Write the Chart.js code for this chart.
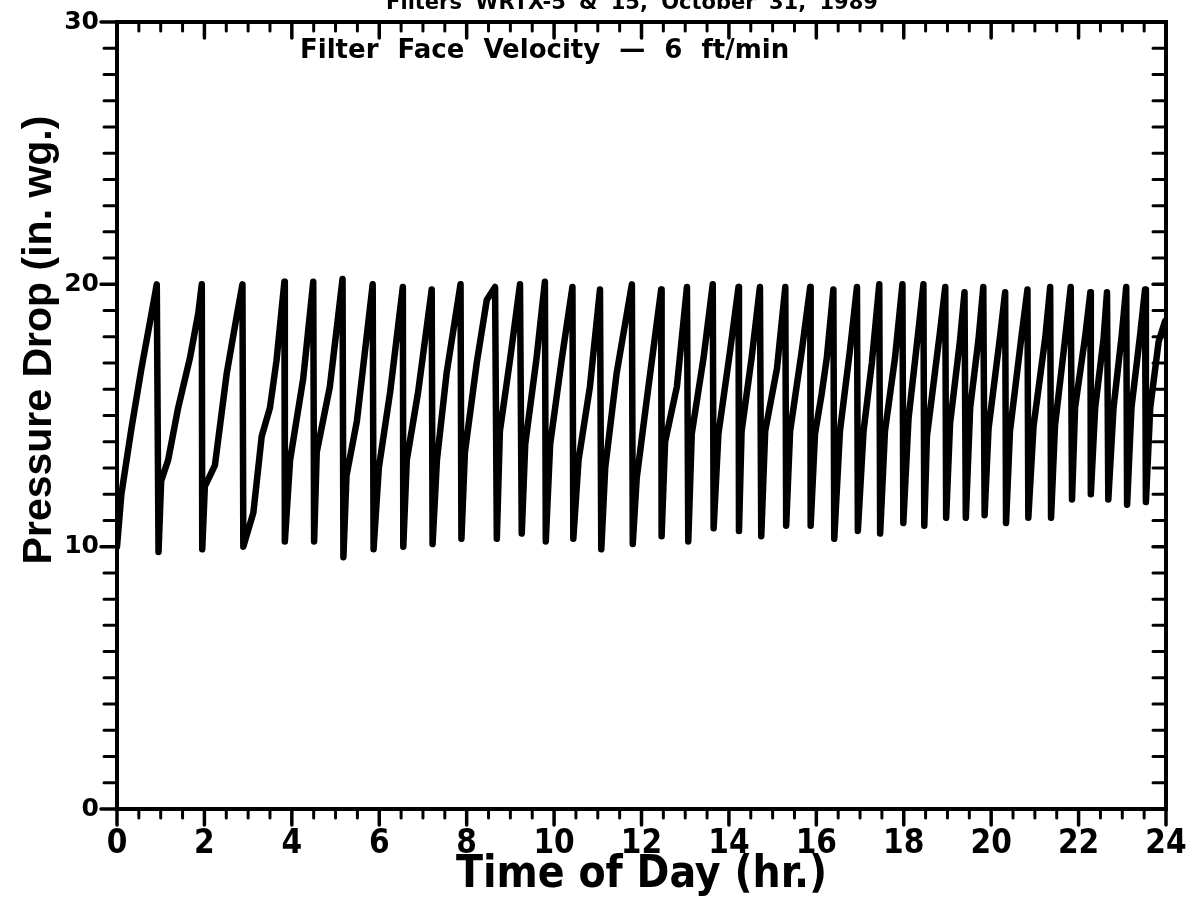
<!DOCTYPE html>
<html>
<head>
<meta charset="utf-8">
<script src="https://cdn.jsdelivr.net/npm/chart.js@4.4.1/dist/chart.umd.min.js"></script>
<style>
  html, body { margin: 0; padding: 0; background: #fff; }
  #wrap { width: 1191px; height: 904px; }
</style>
</head>
<body>
<div id="wrap"><canvas id="grafico" width="1191" height="904"></canvas></div>
<script>
// valores (hora do dia x queda de pressao)
const tempo = [
    0, 0.10, 0.33, 0.56, 0.78, 0.91, 0.95,
    1.01, 1.17, 1.40, 1.67, 1.86, 1.94, 1.95,
    2.01, 2.24, 2.51, 2.74, 2.87, 2.89,
    3.12, 3.31, 3.50, 3.65, 3.83, 3.84,
    3.96, 4.26, 4.49, 4.51,
    4.57, 4.87, 5.16, 5.18,
    5.25, 5.49, 5.85, 5.87,
    5.99, 6.25, 6.54, 6.55,
    6.63, 6.89, 7.20, 7.22,
    7.32, 7.54, 7.86, 7.88,
    7.96, 8.23, 8.46, 8.65, 8.69,
    8.76, 8.99, 9.22, 9.26,
    9.34, 9.60, 9.79, 9.81,
    9.91, 10.18, 10.42, 10.44,
    10.56, 10.82, 11.05, 11.08,
    11.17, 11.43, 11.78, 11.80,
    11.89, 12.12, 12.45, 12.46,
    12.54, 12.81, 13.04, 13.07,
    13.15, 13.42, 13.63, 13.65,
    13.76, 14.03, 14.22, 14.23,
    14.29, 14.52, 14.71, 14.74,
    14.83, 15.10, 15.29, 15.31,
    15.40, 15.67, 15.86, 15.87,
    15.97, 16.12, 16.24, 16.39, 16.41,
    16.54, 16.77, 16.93, 16.95,
    17.08, 17.27, 17.44, 17.46,
    17.57, 17.80, 17.97, 17.99,
    18.11, 18.34, 18.45, 18.47,
    18.53, 18.83, 18.95, 18.97,
    19.06, 19.29, 19.39, 19.42,
    19.52, 19.71, 19.82, 19.85,
    19.94, 20.21, 20.32, 20.34,
    20.43, 20.70, 20.83, 20.85,
    20.97, 21.24, 21.35, 21.37,
    21.46, 21.69, 21.82, 21.85,
    21.92, 22.15, 22.27, 22.28,
    22.38, 22.57, 22.65, 22.68,
    22.80, 22.99, 23.09, 23.11,
    23.21, 23.41, 23.52, 23.54,
    23.64, 23.83, 23.98
];

const pressao = [
    10.0, 12.0, 14.5, 16.8, 18.8, 20.0, 9.8,
    12.5, 13.3, 15.3, 17.2, 18.9, 20.0, 9.9,
    12.3, 13.1, 16.6, 18.8, 20.0, 10.0,
    11.3, 14.2, 15.3, 17.1, 20.1, 10.2,
    13.3, 16.4, 20.1, 10.2,
    13.6, 16.1, 20.2, 9.6,
    12.7, 14.8, 20.0, 9.9,
    13.0, 15.9, 19.9, 10.0,
    13.3, 15.9, 19.8, 10.1,
    13.3, 16.6, 20.0, 10.3,
    13.6, 17.0, 19.4, 19.9, 10.3,
    14.4, 17.1, 20.0, 10.5,
    13.9, 17.2, 20.1, 10.2,
    13.9, 17.2, 19.9, 10.3,
    13.3, 16.1, 19.8, 9.9,
    13.0, 16.6, 20.0, 10.1,
    12.6, 15.6, 19.8, 10.4,
    14.0, 16.1, 19.9, 10.2,
    14.3, 17.2, 20.0, 10.7,
    14.3, 17.5, 19.9, 10.6,
    14.4, 17.2, 19.9, 10.4,
    14.4, 16.8, 19.9, 10.8,
    14.4, 17.5, 19.9, 10.8,
    14.3, 15.8, 17.2, 19.8, 10.3,
    14.4, 17.5, 19.9, 10.6,
    14.4, 17.0, 20.0, 10.5,
    14.4, 17.2, 20.0, 10.9,
    14.9, 18.3, 20.0, 10.8,
    14.2, 18.2, 19.9, 11.1,
    14.7, 17.9, 19.7, 11.1,
    15.3, 17.9, 19.9, 11.2,
    14.5, 18.1, 19.7, 10.9,
    14.4, 18.1, 19.8, 11.1,
    14.6, 18.0, 19.9, 11.1,
    14.6, 17.9, 19.9, 11.8,
    15.3, 18.0, 19.7, 12.0,
    15.3, 17.9, 19.7, 11.8,
    15.3, 18.1, 19.9, 11.6,
    15.3, 18.1, 19.8, 11.7,
    15.3, 17.8, 18.6
];

const ticksX = [0, 2, 4, 6, 8, 10, 12, 14, 16, 18, 20, 22, 24];
const ticksY = [0, 10, 20, 30];

const titulo = 'Filters WRTX-5 & 15, October 31, 1989';
const anotacao = 'Filter Face Velocity \u2014 6 ft/min';
const tituloY = 'Pressure Drop (in. wg.)';

// moldura e marcas de escala desenhadas a mao (como no original)
const molduraPlugin = {
    id: 'moldura',
    afterDraw(chart) {
        const ctx = chart.ctx;
        const a = chart.chartArea;
        const sx = chart.scales.x;
        const sy = chart.scales.y;
        ctx.save();
        ctx.strokeStyle = '#000';
        ctx.lineCap = 'round';

        // marcas do eixo x (baixo para fora, topo para dentro)
        for (let i = 0; i <= 48; i++) {
            const v = i * 0.5;
            const px = sx.getPixelForValue(v);
            const maior = (v % 2 === 0);
            const len = maior ? 16 : 9;
            ctx.lineWidth = maior ? 3.5 : 3;
            ctx.beginPath();
            ctx.moveTo(px, a.bottom);
            ctx.lineTo(px, a.bottom + len);
            ctx.moveTo(px, a.top);
            ctx.lineTo(px, a.top + len);
            ctx.stroke();
        }

        // marcas do eixo y (esquerda para fora, direita para dentro)
        for (let i = 0; i <= 30; i++) {
            const py = sy.getPixelForValue(i);
            const maior = (i % 10 === 0);
            ctx.lineWidth = maior ? 3.5 : 3;
            ctx.beginPath();
            ctx.moveTo(a.left - (maior ? 16 : 13), py);
            ctx.lineTo(a.left, py);
            ctx.moveTo(a.right, py);
            ctx.lineTo(a.right - 13, py);
            ctx.stroke();
        }

        // moldura
        ctx.lineWidth = 4;
        ctx.lineCap = 'butt';
        ctx.strokeRect(a.left, a.top, a.right - a.left, a.bottom - a.top);

        ctx.fillStyle = '#000';

        // texto dentro do grafico
        ctx.font = 'bold 26px "DejaVu Sans", sans-serif';
        ctx.textAlign = 'left';
        ctx.textBaseline = 'alphabetic';
        ctx.wordSpacing = '10px';
        ctx.fillText(anotacao, 300, 58);

        // titulo cortado no topo
        ctx.font = 'bold 21px "DejaVu Sans", sans-serif';
        ctx.textAlign = 'center';
        ctx.wordSpacing = '6px';
        ctx.fillText(titulo, 632, 9);
        ctx.wordSpacing = '0px';

        // titulo do eixo y
        ctx.translate(40, 340);
        ctx.rotate(-Math.PI / 2);
        ctx.font = 'bold 41px "Liberation Sans", Arial, sans-serif';
        ctx.textAlign = 'center';
        ctx.textBaseline = 'middle';
        ctx.fillText(tituloY, 0, 0);
        ctx.restore();
    }
};

const pontos = tempo.map((t, i) => ({ x: t, y: pressao[i] }));

const config = {
    type: 'scatter',
    data: {
        datasets: [{
            label: 'Pressure Drop',
            data: pontos,
            showLine: true,
            borderColor: '#000',
            backgroundColor: '#000',
            borderWidth: 6.5,
            borderJoinStyle: 'round',
            borderCapStyle: 'round',
            pointRadius: 0,
            tension: 0
        }]
    },
    options: {
        responsive: false,
        animation: false,
        layout: {
            padding: { left: 0, top: 22, right: 25, bottom: 0 }
        },
        plugins: {
            legend: { display: false },
            tooltip: { enabled: false }
        },
        scales: {
            x: {
                type: 'linear',
                min: 0,
                max: 24,
                afterBuildTicks: (scale) => { scale.ticks = ticksX.map(v => ({ value: v })); },
                afterFit: (scale) => {
                    scale.height = 95;
                    scale.paddingLeft = 0;
                    scale.paddingRight = 0;
                },
                grid: { display: false, drawTicks: false },
                border: { display: false },
                ticks: {
                    color: '#000',
                    padding: 16,
                    maxRotation: 0,
                    autoSkip: false,
                    font: { family: '"DejaVu Sans Condensed", "DejaVu Sans", sans-serif', size: 33, weight: 'bold' }
                },
                title: {
                    display: true,
                    text: 'Time of Day (hr.)',
                    color: '#000',
                    padding: { top: 0, bottom: 2 },
                    font: { family: '"DejaVu Sans Condensed", "DejaVu Sans", sans-serif', size: 44, weight: 'bold' }
                }
            },
            y: {
                type: 'linear',
                min: 0,
                max: 30,
                afterBuildTicks: (scale) => { scale.ticks = ticksY.map(v => ({ value: v })); },
                afterFit: (scale) => {
                    scale.width = 117;
                    scale.paddingTop = 0;
                    scale.paddingBottom = 0;
                },
                grid: { display: false, drawTicks: false },
                border: { display: false },
                ticks: {
                    color: '#000',
                    padding: 18,
                    autoSkip: false,
                    font: { family: '"DejaVu Sans", sans-serif', size: 25, weight: 'bold' }
                },
                title: { display: false }
            }
        }
    },
    plugins: [molduraPlugin]
};

new Chart(document.getElementById('grafico'), config);
</script>
</body>
</html>
